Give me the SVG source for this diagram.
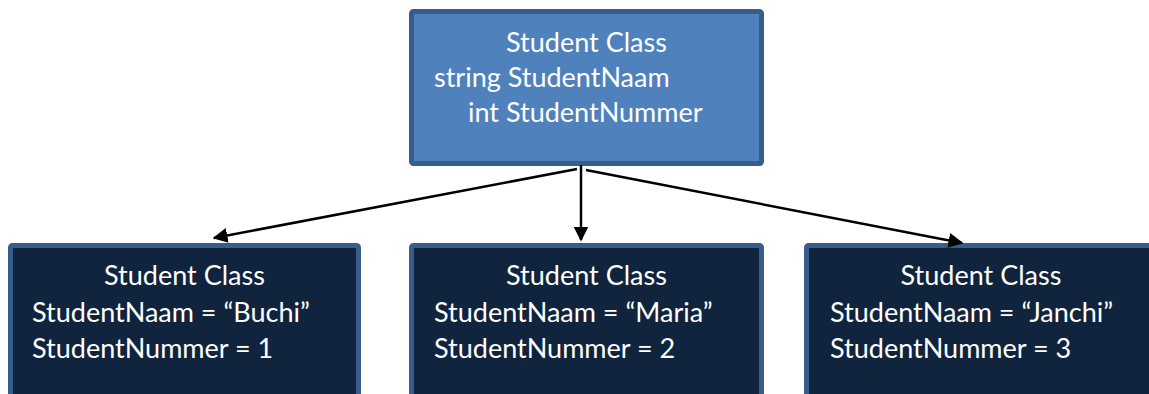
<svg xmlns="http://www.w3.org/2000/svg" width="1149" height="394" viewBox="0 0 1149 394">
  <style>
    .cls { fill: #4f81bd; stroke: #385d8a; stroke-width: 5; }
    .obj { fill: #10243e; stroke: #385d8a; stroke-width: 5; }
    text { font-family: Lato, "Open Sans", sans-serif; font-size: 27px; fill: #ffffff; }
    .mid { text-anchor: middle; }
    .link { stroke: #000000; stroke-width: 2.5; fill: none; marker-end: url(#head); }
  </style>
  <defs>
    <marker id="head" viewBox="0 0 10 10" refX="9" refY="5" markerWidth="6" markerHeight="6" markerUnits="strokeWidth" orient="auto">
      <path d="M0,0 L10,5 L0,10 Z" fill="#000000"/>
    </marker>
  </defs>

  <!-- class definition -->
  <g id="student-class">
    <rect class="cls" x="411.5" y="11.5" width="350" height="152" rx="2"/>
    <text class="mid" x="586.5" y="52">Student Class</text>
    <text x="434" y="87">string StudentNaam</text>
    <text x="468" y="122">int StudentNummer</text>
  </g>

  <!-- instances -->
  <g id="student-buchi">
    <rect class="obj" x="10.5" y="245.5" width="348" height="170" rx="2"/>
    <text class="mid" x="184.5" y="285">Student Class</text>
    <text x="32" y="322">StudentNaam = “Buchi”</text>
    <text x="32" y="358">StudentNummer = 1</text>
  </g>

  <g id="student-maria">
    <rect class="obj" x="411.5" y="245.5" width="350" height="170" rx="2"/>
    <text class="mid" x="586.5" y="285">Student Class</text>
    <text x="434" y="322">StudentNaam = “Maria”</text>
    <text x="434" y="358">StudentNummer = 2</text>
  </g>

  <g id="student-janchi">
    <rect class="obj" x="806.5" y="245.5" width="360" height="170" rx="2"/>
    <text class="mid" x="981" y="285">Student Class</text>
    <text x="830" y="322">StudentNaam = “Janchi”</text>
    <text x="830" y="358">StudentNummer = 3</text>
  </g>

  <!-- instantiation arrows -->
  <g id="connectors">
    <line class="link" x1="577" y1="169" x2="214" y2="238"/>
    <line class="link" x1="581" y1="165" x2="581" y2="240"/>
    <line class="link" x1="586" y1="170" x2="962" y2="243"/>
  </g>
</svg>
